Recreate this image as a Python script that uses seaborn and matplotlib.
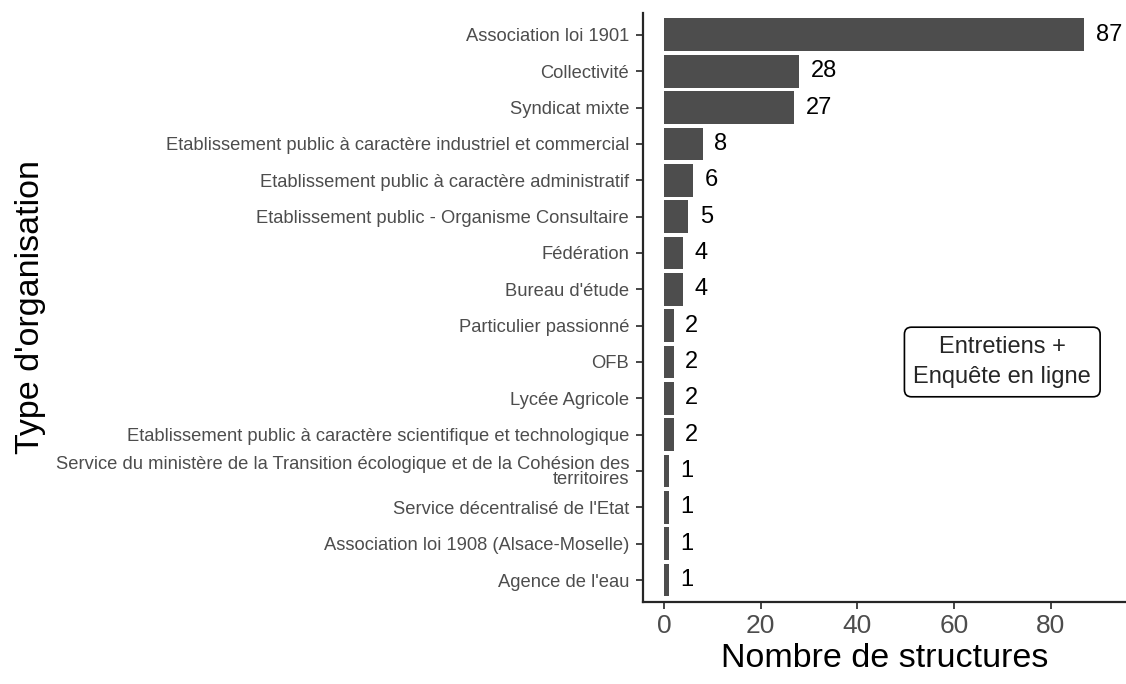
import pandas as pd
import matplotlib.pyplot as plt
import seaborn as sns

# Données
types = [
    "Association loi 1901",
    "Collectivité",
    "Syndicat mixte",
    "Etablissement public à caractère industriel et commercial",
    "Etablissement public à caractère administratif",
    "Etablissement public - Organisme Consultaire",
    "Fédération",
    "Bureau d'étude",
    "Particulier passionné",
    "OFB",
    "Lycée Agricole",
    "Etablissement public à caractère scientifique et technologique",
    "Service du ministère de la Transition écologique et de la Cohésion des\nterritoires",
    "Service décentralisé de l'Etat",
    "Association loi 1908 (Alsace-Moselle)",
    "Agence de l'eau",
]
nombres = [87, 28, 27, 8, 6, 5, 4, 4, 2, 2, 2, 2, 1, 1, 1, 1]

df = pd.DataFrame({'type': types, 'n': nombres})

sns.set_style("ticks")
plt.rcParams['font.family'] = ['Liberation Sans', 'DejaVu Sans']

fig = plt.figure(figsize=(11.26, 6.84), dpi=100)
ax = fig.add_axes([0.571, 0.12, 0.429, 0.861])

sns.barplot(data=df, x='n', y='type', orient='h', color='#4d4d4d',
            saturation=1, width=0.9, linewidth=0, ax=ax)

# étiquettes des valeurs
for i, v in enumerate(nombres):
    ax.text(v + 2.4, i, str(v), va='center', ha='left', fontsize=17, color='black')

ax.set_xlim(-4.35, 95.6)
ax.set_ylim(len(types) - 0.4, -0.6)
ax.set_xticks([0, 20, 40, 60, 80])

ax.set_xlabel('Nombre de structures', fontsize=24.5, color='black', labelpad=4)
ax.set_ylabel("Type d'organisation", fontsize=24.5, color='black')
ax.yaxis.set_label_coords(-1.235, 0.5)
ax.tick_params(axis='x', labelsize=19, labelcolor='#4d4d4d', length=5, width=1.2)
ax.tick_params(axis='y', labelsize=13.2, labelcolor='#4d4d4d', length=5, width=1.2, pad=5)
for lab in ax.get_yticklabels():
    lab.set_linespacing(0.85)

for s in ['top', 'right']:
    ax.spines[s].set_visible(False)
for s in ['left', 'bottom']:
    ax.spines[s].set_linewidth(1.6)

ax.text(70, 9, 'Entretiens +\nEnquête en ligne', ha='center', va='center',
        fontsize=17, linespacing=1.45,
        bbox=dict(boxstyle='round,pad=0.38,rounding_size=0.3', fc='white', ec='black', lw=1.2))

fig.savefig('out.png', dpi=100)
